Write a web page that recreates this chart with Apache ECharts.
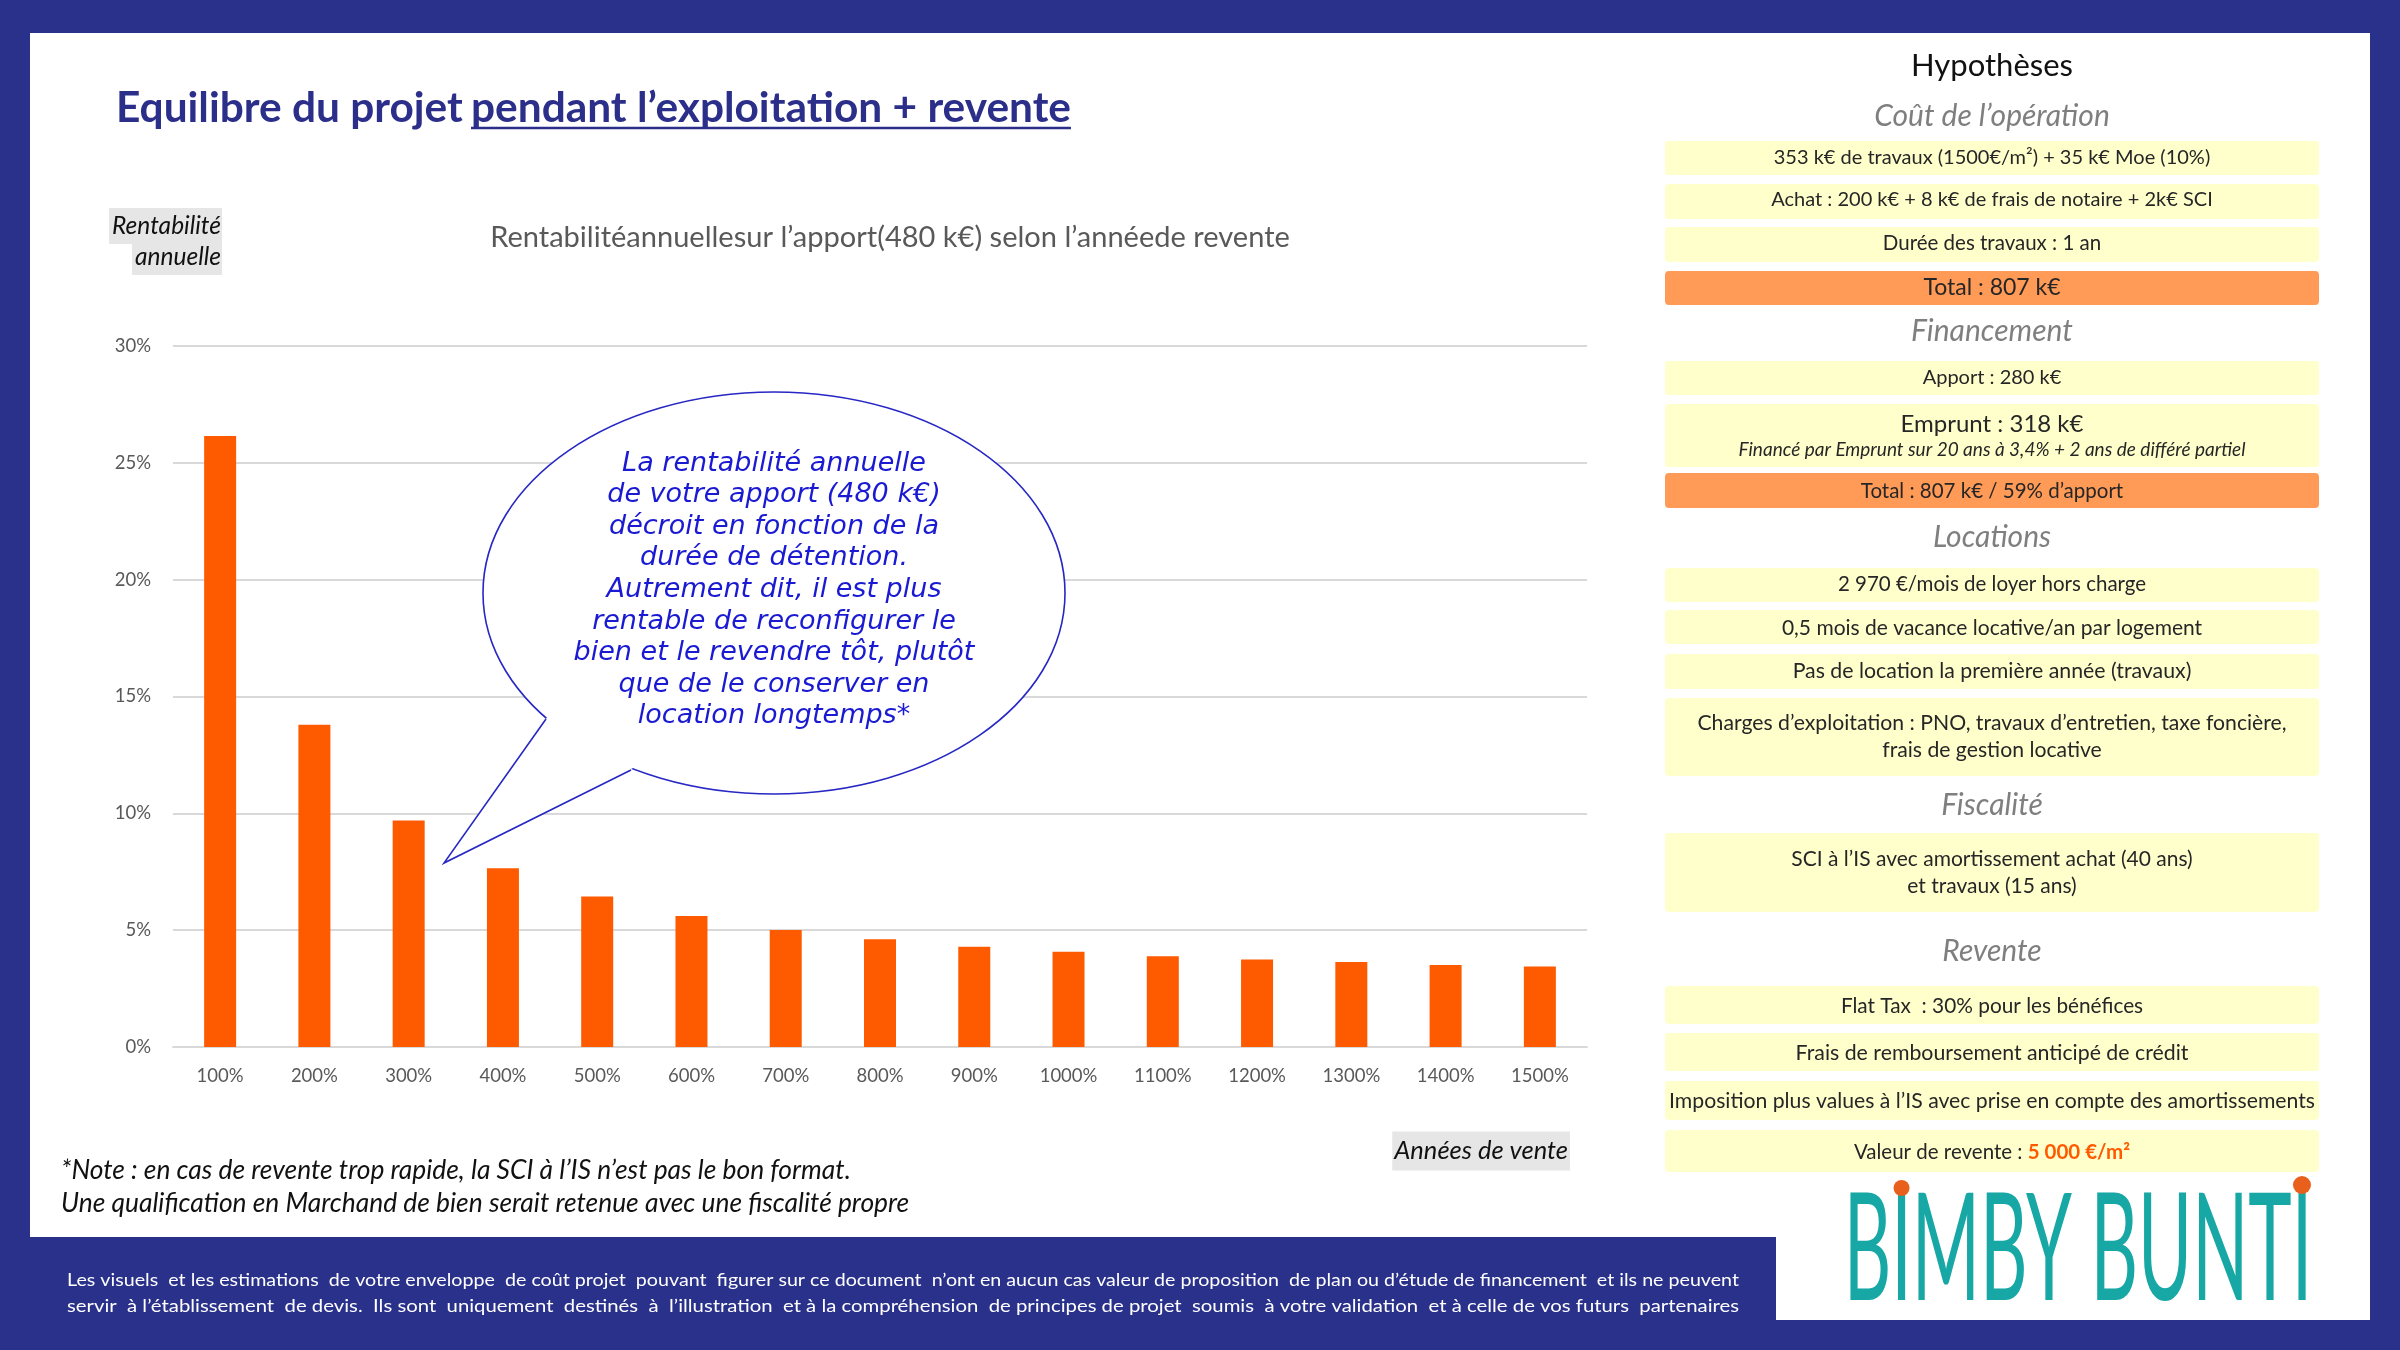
<!DOCTYPE html>
<html>
<head>
<meta charset="utf-8">
<script src="https://cdn.jsdelivr.net/npm/echarts@6/dist/echarts.min.js"></script>
<style>
html, body { margin: 0; padding: 0; background: #2a318a; }
#chart { width: 2400px; height: 1350px; }
</style>
</head>
<body>
<div id="chart"></div>
<script>
// donnees du graphique
var anneesVente = ['100%', '200%', '300%', '400%', '500%', '600%', '700%', '800%',
	'900%', '1000%', '1100%', '1200%', '1300%', '1400%', '1500%'];
var rentabilite = [26.15, 13.79, 9.69, 7.65, 6.44, 5.61, 5.01, 4.61, 4.29, 4.08, 3.88, 3.75, 3.64, 3.51, 3.45];
var yMin = 0, yMax = 30, yStep = 5;

var bulleLignes = [
	'La rentabilité annuelle',
	'de votre apport (480 k€)',
	'décroit en fonction de la',
	'durée de détention.',
	'Autrement dit, il est plus',
	'rentable de reconfigurer le',
	'bien et le revendre tôt, plutôt',
	'que de le conserver en',
	'location longtemps*'
];

// hypotheses : [texte, y centre, y haut, y bas, couleur, taille]
var hypotheses = [
	['353 k€ de travaux (1500€/m²) + 35 k€ Moe (10%)', 158, 141, 175, 'y', 20],
	['Achat : 200 k€ + 8 k€ de frais de notaire + 2k€ SCI', 200, 184, 219, 'y', 20],
	['Durée des travaux : 1 an', 243, 227, 262, 'y', 20.5],
	['Total : 807 k€', 288, 271, 305, 'o', 23],
	['Apport : 280 k€', 378, 361, 395, 'y', 20],
	['', 0, 404, 467, 'y', 20],
	['Total : 807 k€ / 59% d\u2019apport', 491, 473, 508, 'o', 20.5],
	['2 970 €/mois de loyer hors charge', 584, 568, 602, 'y', 20.5],
	['0,5 mois de vacance locative/an par logement', 628, 610, 644, 'y', 21],
	['Pas de location la première année (travaux)', 671, 654, 689, 'y', 21.3],
	['Charges d\u2019exploitation : PNO, travaux d\u2019entretien, taxe foncière,\nfrais de gestion locative', 737, 698, 776, 'y', 21.2],
	['SCI à l\u2019IS avec amortissement achat (40 ans)\net travaux (15 ans)', 873, 833, 912, 'y', 21],
	['Flat Tax  : 30% pour les bénéfices', 1006, 986, 1024, 'y', 20.8],
	['Frais de remboursement anticipé de crédit', 1053, 1033, 1071, 'y', 21.3],
	['Imposition plus values à l\u2019IS avec prise en compte des amortissements', 1101, 1081, 1120, 'y', 21.2],
	['', 0, 1130, 1172, 'y', 20.5]
];
var sections = [
	['Coût de l\u2019opération', 116],
	['Financement', 331],
	['Locations', 537],
	['Fiscalité', 805],
	['Revente', 951]
];
var piedLignes = [
	'Les visuels  et les estimations  de votre enveloppe  de coût projet  pouvant  figurer sur ce document  n\u2019ont en aucun cas valeur de proposition  de plan ou d\u2019étude de financement  et ils ne peuvent',
	'servir  à l\u2019établissement  de devis.  Ils sont  uniquement  destinés  à  l\u2019illustration  et à la compréhension  de principes de projet  soumis  à votre validation  et à celle de vos futurs  partenaires'
];

var chart = echarts.init(document.getElementById('chart'));
var FONT = 'Lato, "Open Sans", sans-serif';
var ctx = document.createElement('canvas').getContext('2d');

function mesure(text, size, family, weight, italic) {
	ctx.font = (italic ? 'italic ' : '') + (weight || 'normal') + ' ' + size + 'px ' + family;
	return ctx.measureText(text).width;
}
// taille de police pour une largeur voulue
function ajuste(text, width, family, weight, italic) {
	return 40 * width / mesure(text, 40, family, weight, italic);
}

function txt(x, y, text, size, color, opts) {
	opts = opts || {};
	var style = {
		text: text, x: 0, y: 0,
		fontSize: size, fontFamily: opts.family || FONT,
		fontWeight: opts.weight || 'normal', fontStyle: opts.italic ? 'italic' : 'normal',
		fill: color,
		align: opts.align || 'center', verticalAlign: opts.valign || 'middle',
		lineHeight: opts.lineHeight || Math.round(size * 1.3)
	};
	if (opts.bg) { style.backgroundColor = opts.bg; style.padding = opts.padding || [2, 2]; }
	if (opts.rich) { style.rich = opts.rich; }
	return { type: 'text', x: x, y: y, z: 50, scaleX: opts.scaleX || 1, style: style };
}

var elements = [];
// fond blanc
elements.push({ type: 'rect', z: -100, shape: { x: 30, y: 33, width: 2340, height: 1204 }, style: { fill: '#ffffff' } });
elements.push({ type: 'rect', z: -100, shape: { x: 1776, y: 1230, width: 594, height: 90 }, style: { fill: '#ffffff' } });

// titre
var titre1 = 'Equilibre du projet', titre2 = 'pendant l\u2019exploitation + revente';
var tTitre = ajuste(titre2, 600, 'Lato', 'bold');
elements.push(txt(116, 108, titre1, tTitre, '#2b2f8a', { align: 'left', weight: 'bold' }));
elements.push(txt(471, 108, titre2, tTitre, '#2b2f8a', { align: 'left', weight: 'bold' }));
elements.push({ type: 'line', z: 50, shape: { x1: 471, y1: 128, x2: 471 + mesure(titre2, tTitre, 'Lato', 'bold'), y2: 128 }, style: { stroke: '#2b2f8a', lineWidth: 2.5 } });

// noms des axes
elements.push(txt(222, 226, 'Rentabilité', 24.5, '#111', { align: 'right', italic: true, bg: '#e6e6e6', padding: [2, 1, 2, 3] }));
elements.push(txt(222, 257, 'annuelle', 24.5, '#111', { align: 'right', italic: true, bg: '#e6e6e6', padding: [2, 1, 2, 3] }));
elements.push(txt(1570, 1151, 'Années de vente', 25.5, '#111', { align: 'right', italic: true, bg: '#e6e6e6', padding: [3, 2, 3, 2] }));
var sousTitre = 'Rentabilitéannuellesur l\u2019apport(480 k€) selon l\u2019annéede revente';
elements.push(txt(890, 238, sousTitre, ajuste(sousTitre, 800, 'Lato'), '#595959', {}));

// bulle
var BULLE_FONT = '"DejaVu Sans", sans-serif';
var tBulle = ajuste(bulleLignes[6], 401, '"DejaVu Sans"', 'normal', true);
elements.push({ type: 'ellipse', z: 40, shape: { cx: 774, cy: 593, rx: 291, ry: 201 }, style: { fill: '#ffffff', stroke: '#2727c4', lineWidth: 1.6 } });
elements.push({ type: 'polygon', z: 41, shape: { points: [[548, 716], [444, 863], [633, 768], [600, 700]] }, style: { fill: '#ffffff' } });
elements.push({ type: 'polyline', z: 42, shape: { points: [[546, 719], [444, 863], [631, 770]] }, style: { stroke: '#2727c4', lineWidth: 1.6, fill: null } });
elements.push(txt(774, 590, bulleLignes.join('\n'), tBulle, '#1a1ad2', { italic: true, family: BULLE_FONT, lineHeight: 31.6 }));

// note
var note1 = '*Note : en cas de revente trop rapide, la SCI à l\u2019IS n\u2019est pas le bon format.';
var note2 = 'Une qualification en Marchand de bien serait retenue avec une fiscalité propre';
var tNote = ajuste(note1, 790, 'Lato', 'normal', true);
elements.push(txt(61, 1170, note1, tNote, '#111', { align: 'left', italic: true }));
elements.push(txt(61, 1203, note2, tNote, '#111', { align: 'left', italic: true }));

// pied de page (lignes justifiees par etirement)
piedLignes.forEach(function (l, i) {
	var sx = 1672 / mesure(l, 18, 'Lato');
	elements.push(txt(67, 1280 + i * 26, l, 18, '#ffffff', { align: 'left', scaleX: sx }));
});

// panneau hypotheses
elements.push(txt(1992, 66, 'Hypothèses', 31, '#111', {}));
sections.forEach(function (s) {
	elements.push(txt(1992, s[1], s[0], 30, '#7f7f7f', { italic: true }));
});
hypotheses.forEach(function (h) {
	elements.push({ type: 'rect', z: 10, shape: { x: 1665, y: h[2], width: 654, height: h[3] - h[2], r: 4 },
		style: { fill: h[4] === 'o' ? '#ff9a57' : '#ffffcc' } });
	if (h[0]) {
		elements.push(txt(1992, h[1], h[0], h[5], '#262626', { lineHeight: 27 }));
	}
});
elements.push(txt(1992, 424, 'Emprunt : 318 k€', 24, '#262626', {}));
elements.push(txt(1992, 450, 'Financé par Emprunt sur 20 ans à 3,4% + 2 ans de différé partiel', 19, '#262626', { italic: true }));
elements.push(txt(1992, 1152, '{a|Valeur de revente : }{b|5 000 €/m²}', 20.5, '#262626', {
	rich: {
		a: { fontSize: 20.5, fontFamily: FONT, fill: '#262626', color: '#262626' },
		b: { fontSize: 20.5, fontFamily: FONT, fontWeight: 'bold', fill: '#ff5a00', color: '#ff5a00' }
	}
}));

// logo
var logo = 'BIMBY BUNTI', tLogo = 150, sxLogo = 0.49;
var wLogo = mesure(logo, tLogo, 'Lato') * sxLogo;
var xLogo = 2078 - wLogo / 2;
elements.push(txt(2078, 1252, logo, tLogo, '#17a8a6', { scaleX: sxLogo }));
var xI1 = xLogo + (mesure('B', tLogo, 'Lato') + mesure('I', tLogo, 'Lato') / 2) * sxLogo;
var xI2 = xLogo + (mesure('BIMBY BUNT', tLogo, 'Lato') + mesure('I', tLogo, 'Lato') / 2) * sxLogo;
elements.push({ type: 'circle', z: 51, shape: { cx: xI1, cy: 1188, r: 8 }, style: { fill: '#e8601c' } });
elements.push({ type: 'circle', z: 51, shape: { cx: xI2, cy: 1185, r: 9 }, style: { fill: '#e8601c' } });

var option = {
	backgroundColor: '#2a318a',
	animation: false,
	grid: { left: 173, right: 813, top: 346, bottom: 303 },
	xAxis: {
		type: 'category',
		data: anneesVente,
		axisTick: { show: false },
		axisLine: { lineStyle: { color: '#d9d9d9', width: 2 } },
		axisLabel: { color: '#595959', fontSize: 18.5, fontFamily: FONT, margin: 20 }
	},
	yAxis: {
		type: 'value',
		min: yMin, max: yMax, interval: yStep,
		axisLine: { show: false },
		axisLabel: { color: '#595959', fontSize: 18.5, fontFamily: FONT, margin: 22, formatter: '{value}%' },
		splitLine: { lineStyle: { color: '#d9d9d9', width: 2 } }
	},
	series: [{
		type: 'bar',
		data: rentabilite,
		barWidth: 32,
		itemStyle: { color: '#fe5b00' }
	}],
	graphic: { elements: elements }
};
chart.setOption(option);
</script>
</body>
</html>
